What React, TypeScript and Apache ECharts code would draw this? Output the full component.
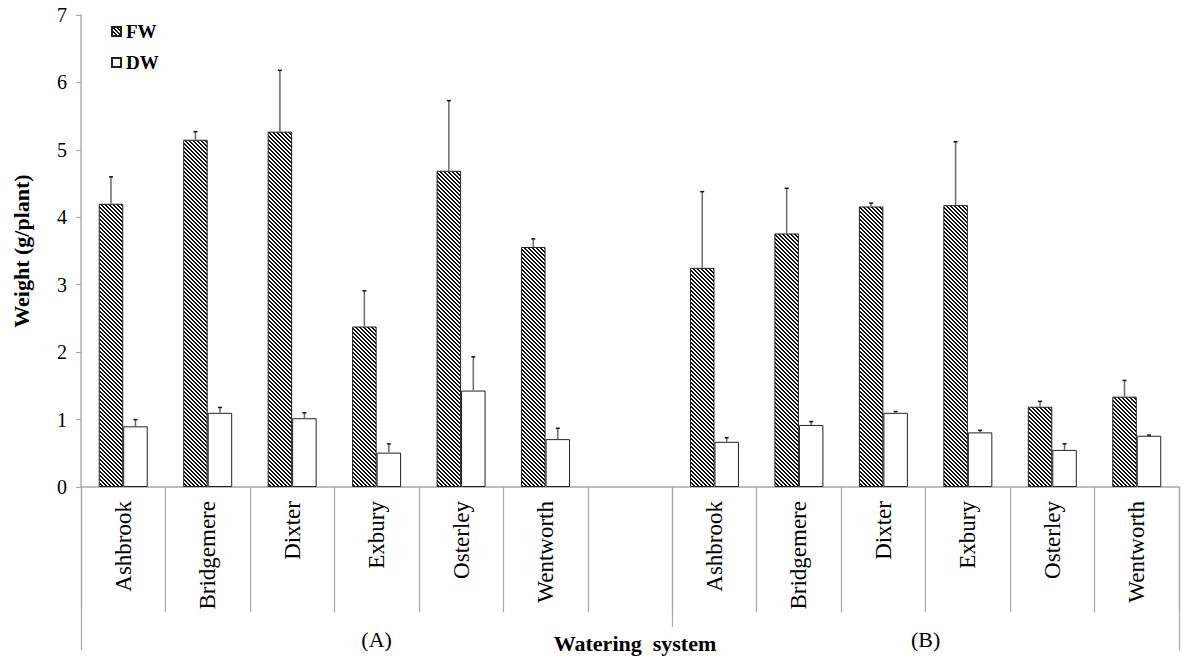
import React, { useEffect, useRef } from "react";
import * as echarts from "echarts";

const categories = ["Ashbrook", "Bridgemere", "Dixter", "Exbury", "Osterley", "Wentworth", "", "Ashbrook", "Bridgemere", "Dixter", "Exbury", "Osterley", "Wentworth"];
const fwValues = [4.2, 5.15, 5.27, 2.38, 4.69, 3.56, null, 3.25, 3.76, 4.16, 4.18, 1.19, 1.34];
const fwErrors = [0.4, 0.12, 0.91, 0.53, 1.04, 0.12, null, 1.13, 0.67, 0.05, 0.94, 0.08, 0.24];
const dwValues = [0.9, 1.1, 1.02, 0.51, 1.43, 0.71, null, 0.67, 0.92, 1.1, 0.81, 0.55, 0.76];
const dwErrors = [0.1, 0.08, 0.08, 0.13, 0.5, 0.16, null, 0.06, 0.05, 0.02, 0.03, 0.09, 0.01];
const groupLabels = ["(A)", "(B)"];
const groupCenters = [3.5, 10];
const groupBounds = [0, 13];
const groupMiddle = [7];

const FONT = "Liberation Serif";
const BAR_W = 0.29;

function makePattern() {
  const c = document.createElement("canvas");
  c.width = 4;
  c.height = 4;
  const ctx = c.getContext("2d")!;
  ctx.fillStyle = "#ffffff";
  ctx.fillRect(0, 0, 4, 4);
  ctx.fillStyle = "#111111";
  for (let i = 0; i < 4; i++) {
    ctx.fillRect(i, i, 1, 1);
    ctx.fillRect((i + 1) % 4, i, 1, 1);
  }
  return c;
}

function errorSeries(name: string, values: (number | null)[], errs: (number | null)[], side: number) {
  const data: any[] = [];
  values.forEach((v, i) => {
    if (v != null && errs[i] != null) data.push([i, v, errs[i]]);
  });
  return {
    type: "custom",
    name: name + " err",
    xAxisIndex: 0,
    yAxisIndex: 0,
    z: 5,
    silent: true,
    data,
    renderItem: (params: any, api: any) => {
      const idx = api.value(0);
      const v = api.value(1);
      const e = api.value(2);
      const base = api.coord([idx, v]);
      const top = api.coord([idx, v + e]);
      const bw = api.size([1, 0])[0] * BAR_W;
      const x = base[0] + (side * bw) / 2;
      return {
        type: "group",
        children: [
          {
            type: "line",
            shape: { x1: x, y1: base[1], x2: x, y2: top[1] },
            style: { stroke: "#6a6a6a", lineWidth: 1.5 },
          },
          {
            type: "line",
            shape: { x1: x - 2, y1: top[1], x2: x + 2, y2: top[1] },
            style: { stroke: "#111", lineWidth: 1.5 },
          },
        ],
      };
    },
  };
}

export default function App() {
  const ref = useRef<HTMLDivElement>(null);
  useEffect(() => {
    if (!ref.current) return;
    const chart = echarts.init(ref.current, null, { renderer: "svg" });
    const pattern = makePattern();
    const hatch: any = { image: pattern, repeat: "repeat" };
    const option: any = {
      animation: false,
      backgroundColor: "#fff",
      textStyle: { fontFamily: FONT },
      grid: { left: 81, right: 6, top: 15, bottom: 172, containLabel: false, outerBoundsMode: "none" },
      legend: {
        left: 106,
        top: 17,
        orient: "vertical",
        itemWidth: 9,
        itemHeight: 9,
        itemGap: 12,
        icon: "rect",
        data: ["FW", "DW"],
        textStyle: { fontFamily: FONT, fontWeight: "bold", fontSize: 19, color: "#000", padding: [0, 0, 0, 0] },
      },
      xAxis: [
        {
          type: "category",
          data: categories,
          boundaryGap: true,
          axisLine: { show: true, lineStyle: { color: "#a6a6a6", width: 1.5 } },
          axisTick: { show: true, interval: 0, length: 125, lineStyle: { color: "#a6a6a6", width: 1.2 } },
          axisLabel: {
            interval: 0,
            rotate: 90,
            margin: 14,
            fontSize: 23,
            fontFamily: FONT,
            color: "#000",
            overflow: "none",
            hideOverlap: false,
          },
          splitLine: { show: false },
        },
        {
          type: "value",
          min: 0,
          max: 13,
          position: "bottom",
          axisLine: { show: false },
          splitLine: { show: false },
          axisTick: { show: true, customValues: groupBounds, length: 163, lineStyle: { color: "#a6a6a6", width: 1.2 } },
          axisLabel: {
            show: true,
            customValues: groupCenters,
            margin: 141,
            fontSize: 22,
            fontFamily: FONT,
            color: "#000",
            formatter: (v: number) => groupLabels[groupCenters.indexOf(v)] ?? "",
          },
          name: "Watering  system",
          nameLocation: "middle",
          nameGap: 145,
          nameMoveOverlap: false,
          nameTextStyle: { fontFamily: FONT, fontWeight: "bold", fontSize: 22, color: "#000", padding: [0, 0, 0, 10] },
        },
        {
          type: "value",
          min: 0,
          max: 13,
          position: "bottom",
          axisLine: { show: false },
          splitLine: { show: false },
          axisTick: { show: true, customValues: groupMiddle, length: 140, lineStyle: { color: "#a6a6a6", width: 1.2 } },
          axisLabel: { show: false },
        },
      ],
      yAxis: {
        type: "value",
        min: 0,
        max: 7,
        interval: 1,
        axisLine: { show: true, lineStyle: { color: "#b0b0b0", width: 1.5 } },
        axisTick: { show: true, length: 5, lineStyle: { color: "#a6a6a6" } },
        splitLine: { show: false },
        axisLabel: { margin: 14, fontSize: 20, fontFamily: FONT, color: "#000" },
        name: "Weight (g/plant)",
        nameLocation: "middle",
        nameGap: 49,
        nameMoveOverlap: false,
        nameTextStyle: { fontFamily: FONT, fontWeight: "bold", fontSize: 22, color: "#000" },
      },
      series: [
        {
          name: "FW",
          type: "bar",
          xAxisIndex: 0,
          data: fwValues.map((v) => (v == null ? "-" : v)),
          barWidth: BAR_W * 100 + "%",
          barGap: "0%",
          itemStyle: { color: hatch, borderColor: "#222", borderWidth: 1 },
        },
        {
          name: "DW",
          type: "bar",
          xAxisIndex: 0,
          data: dwValues.map((v) => (v == null ? "-" : v)),
          barWidth: BAR_W * 100 + "%",
          barGap: "0%",
          itemStyle: { color: "#fff", borderColor: "#222", borderWidth: 1 },
        },
        errorSeries("FW", fwValues, fwErrors, -1),
        errorSeries("DW", dwValues, dwErrors, 1),
      ],
    };
    chart.setOption(option);
    return () => chart.dispose();
  }, []);
  return (
    <div
      ref={ref}
      style={{ position: "fixed", left: 0, top: 0, width: 1185, height: 659, background: "#fff" }}
    />
  );
}
